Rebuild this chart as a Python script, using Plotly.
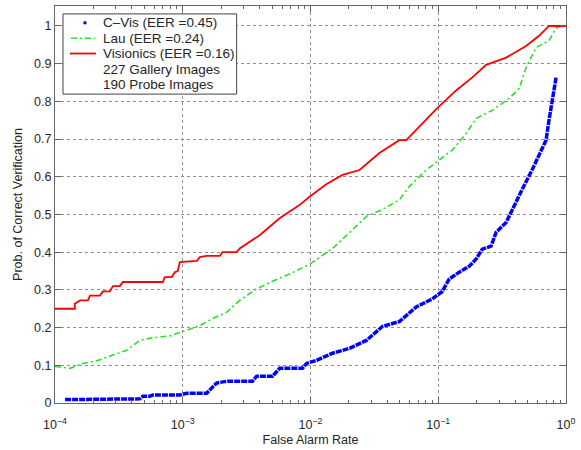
import plotly.graph_objects as go

# ---------------- data ----------------
visionics_far = [1.0e-4, 1.43e-4, 1.43e-4, 1.57e-4, 1.81e-4, 1.88e-4, 2.25e-4, 2.37e-4, 2.69e-4,
                 2.84e-4, 3.22e-4, 3.40e-4, 6.98e-4, 7.23e-4, 8.20e-4, 8.66e-4, 9.14e-4, 9.48e-4,
                 1.29e-3, 1.36e-3, 1.54e-3, 1.95e-3, 2.05e-3, 2.64e-3, 2.79e-3, 4.00e-3, 5.73e-3,
                 8.20e-3, 9.82e-3, 1.33e-2, 1.78e-2, 2.42e-2, 3.46e-2, 4.96e-2, 5.62e-2, 7.11e-2,
                 9.82e-2, 0.138, 0.184, 0.237, 0.340, 0.487, 0.615, 0.736, 1.0]
visionics_pcv = [0.25, 0.25, 0.263, 0.272, 0.272, 0.285, 0.285, 0.296, 0.296,
                 0.31, 0.31, 0.321, 0.321, 0.334, 0.334, 0.347, 0.35, 0.374,
                 0.377, 0.387, 0.39, 0.39, 0.40, 0.40, 0.41, 0.445, 0.49,
                 0.525, 0.547, 0.58, 0.605, 0.618, 0.663, 0.697, 0.697, 0.732,
                 0.782, 0.829, 0.863, 0.897, 0.916, 0.947, 0.974, 1.0, 1.0]

lau_far = [1.0e-4, 1.31e-4, 1.66e-4, 2.17e-4, 2.84e-4, 3.65e-4, 4.61e-4, 5.83e-4, 7.91e-4,
           1.0e-3, 1.36e-3, 1.71e-3, 2.21e-3, 2.79e-3, 3.79e-3, 5.05e-3, 6.85e-3, 9.82e-3,
           1.49e-2, 2.02e-2, 2.74e-2, 3.65e-2, 4.96e-2, 5.93e-2, 8.06e-2, 0.102, 0.129,
           0.166, 0.198, 0.264, 0.359, 0.430, 0.487, 0.583, 0.736, 0.836, 0.931, 1.0]
lau_pcv = [0.097, 0.092, 0.105, 0.113, 0.127, 0.14, 0.166, 0.173, 0.178,
           0.19, 0.205, 0.224, 0.241, 0.272, 0.303, 0.323, 0.342, 0.368,
           0.41, 0.452, 0.495, 0.513, 0.539, 0.574, 0.618, 0.645, 0.671,
           0.716, 0.755, 0.776, 0.808, 0.834, 0.89, 0.943, 0.961, 0.995, 1.0, 1.0]

cvis_far = [1.20e-4, 2.69e-4, 3.22e-4, 4.61e-4, 4.87e-4, 5.52e-4, 5.83e-4, 9.48e-4, 1.07e-3,
            1.54e-3, 1.84e-3, 2.25e-3, 3.52e-3, 3.79e-3, 5.05e-3, 5.73e-3, 8.66e-3, 9.31e-3,
            1.11e-2, 1.49e-2, 2.02e-2, 2.74e-2, 3.65e-2, 4.96e-2, 6.73e-2, 8.98e-2, 0.107,
            0.122, 0.146, 0.175, 0.198, 0.221, 0.259, 0.284, 0.340, 0.378, 0.453, 0.542,
            0.649, 0.698, 0.736, 0.778, 0.836]
cvis_pcv = [0.009, 0.009, 0.011, 0.011, 0.018, 0.018, 0.021, 0.021, 0.026,
            0.026, 0.053, 0.058, 0.058, 0.071, 0.071, 0.092, 0.092, 0.105,
            0.113, 0.132, 0.145, 0.166, 0.203, 0.216, 0.255, 0.276, 0.295,
            0.329, 0.347, 0.363, 0.382, 0.408, 0.416, 0.453, 0.479, 0.513, 0.566, 0.618,
            0.671, 0.697, 0.75, 0.803, 0.863]

x_tickvals = [1e-4, 1e-3, 1e-2, 1e-1, 1]
x_ticktext = ["10<sup>−4</sup>", "10<sup>−3</sup>", "10<sup>−2</sup>", "10<sup>−1</sup>", "10<sup>0</sup>"]
y_tickvals = [0, 0.1, 0.2, 0.3, 0.4, 0.5, 0.6, 0.7, 0.8, 0.9, 1.0]
y_ticktext = ["0", "0.1", "0.2", "0.3", "0.4", "0.5", "0.6", "0.7", "0.8", "0.9", "1"]
legend_labels = ["C–Vis (EER =0.45)", "Lau (EER =0.24)", "Visionics (EER =0.16)",
                 "227 Gallery Images", "190 Probe Images"]

minor_vals = [m * 10.0 ** e for e in range(-4, 0) for m in range(2, 10)]

BLUE = "#0000ff"
GREEN = "#22e622"
RED = "#ff0000"
FONT = "Liberation Sans, Arial, sans-serif"
TXT = "#262626"

fig = go.Figure()
fig.add_trace(go.Scatter(x=cvis_far, y=cvis_pcv, mode="lines", name=legend_labels[0],
                         line=dict(color=BLUE, width=3.5, dash="6px,1px"), showlegend=False))
fig.add_trace(go.Scatter(x=lau_far, y=lau_pcv, mode="lines", name=legend_labels[1],
                         line=dict(color=GREEN, width=1.6, dash="6px,3px,2px,3px"), showlegend=False))
fig.add_trace(go.Scatter(x=visionics_far, y=visionics_pcv, mode="lines", name=legend_labels[2],
                         line=dict(color=RED, width=1.8), showlegend=False))

axis_common = dict(
    showline=True, linecolor="#666666", linewidth=1, mirror="ticks",
    ticks="inside", tickcolor="#666666", ticklen=6, tickwidth=1,
    showgrid=True, gridcolor="#909090", griddash="dot", gridwidth=1,
    zeroline=False, tickfont=dict(family=FONT, size=12.5, color=TXT),
)

fig.update_xaxes(type="log", range=[-4, 0], tickmode="array", tickvals=x_tickvals,
                 ticktext=x_ticktext, ticklabelstandoff=10,
                 minor=dict(tickmode="array", tickvals=minor_vals, ticks="inside",
                            ticklen=3, tickcolor="#666666", showgrid=False),
                 title=dict(text="False Alarm Rate", font=dict(family=FONT, size=12.5, color=TXT),
                            standoff=4),
                 **axis_common)
fig.update_yaxes(range=[0, 1.053], tickmode="array", tickvals=y_tickvals, ticktext=y_ticktext,
                 title=dict(text="Prob. of Correct Verification",
                            font=dict(family=FONT, size=12.5, color=TXT), standoff=8),
                 **axis_common)

# ---- legend box drawn in paper coords (plot-area relative) ----
PX0, PX1, PY0, PY1 = 55, 567, 5, 406
def px2x(px):
    return (px - PX0) / (PX1 - PX0)
def py2y(py):
    return (PY1 - py) / (PY1 - PY0)

shapes = [dict(type="rect", xref="paper", yref="paper",
               x0=px2x(63), x1=px2x(237), y0=py2y(94), y1=py2y(13),
               line=dict(color="#444444", width=1), fillcolor="white", layer="above")]
row_py = [22, 37.5, 53, 69, 84.5]
# C-Vis dot
shapes.append(dict(type="rect", xref="paper", yref="paper",
                   x0=px2x(83.5), x1=px2x(86.5), y0=py2y(row_py[0] + 1.5), y1=py2y(row_py[0] - 1.5),
                   line=dict(width=0), fillcolor=BLUE, layer="above"))
shapes.append(dict(type="line", xref="paper", yref="paper",
                   x0=px2x(71), x1=px2x(95), y0=py2y(row_py[1]), y1=py2y(row_py[1]),
                   line=dict(color=GREEN, width=1.6, dash="6px,3px,2px,3px"), layer="above"))
shapes.append(dict(type="line", xref="paper", yref="paper",
                   x0=px2x(70), x1=px2x(96), y0=py2y(row_py[2]), y1=py2y(row_py[2]),
                   line=dict(color=RED, width=1.8), layer="above"))

annotations = []
for label, py in zip(legend_labels, row_py):
    annotations.append(dict(text=label, xref="paper", yref="paper", x=px2x(101), y=py2y(py),
                            xanchor="left", yanchor="middle", showarrow=False,
                            font=dict(family=FONT, size=13.5, color=TXT)))

fig.update_layout(
    width=581, height=450,
    margin=dict(l=PX0, r=581 - PX1, t=PY0, b=450 - PY1),
    paper_bgcolor="white", plot_bgcolor="white",
    shapes=shapes, annotations=annotations, showlegend=False,
)

fig.write_html("out.html")
